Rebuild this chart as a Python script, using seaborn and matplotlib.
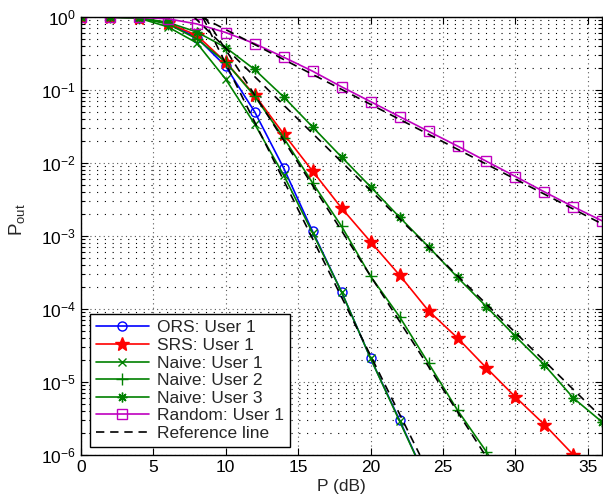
import numpy as np
import pandas as pd
import matplotlib
matplotlib.use("Agg")
import matplotlib.pyplot as plt
import seaborn as sns

# transmit power grid (dB)
power_db = [0, 2, 4, 6, 8, 10, 12, 14, 16, 18, 20, 22, 24, 26, 28, 30, 32, 34, 36]

ors_user1 = [0.99, 0.99, 0.97, 0.82, 0.52, 0.21, 0.05, 0.0085, 1.15e-3, 1.7e-4,
             2.1e-5, 3.0e-6, 4e-7]
srs_user1 = [0.99, 0.99, 0.97, 0.82, 0.56, 0.24, 0.085, 0.025, 0.0077, 2.4e-3,
             8.3e-4, 2.9e-4, 9.4e-5, 4.0e-5, 1.55e-5, 6.2e-6, 2.6e-6, 1.0e-6, 4e-7]
naive_user1 = [0.99, 0.99, 0.96, 0.73, 0.44, 0.14, 0.034, 0.0068, 1.1e-3, 1.7e-4,
               2.1e-5, 2.9e-6, 4e-7]
naive_user2 = [0.99, 0.99, 0.97, 0.80, 0.50, 0.24, 0.082, 0.022, 0.0053, 1.35e-3,
               2.8e-4, 7.8e-5, 1.8e-5, 4.1e-6, 1.1e-6, 2.5e-7]
naive_user3 = [0.99, 0.99, 0.97, 0.84, 0.62, 0.38, 0.19, 0.08, 0.031, 0.012,
               4.7e-3, 1.8e-3, 7.1e-4, 2.7e-4, 1.07e-4, 4.2e-5, 1.7e-5, 6.0e-6, 2.8e-6]
random_user1 = [0.99, 0.99, 0.98, 0.94, 0.80, 0.61, 0.43, 0.28, 0.18, 0.11,
                0.069, 0.043, 0.027, 0.017, 0.0105, 0.0065, 0.004, 0.0025, 0.0016]

# reference lines (diversity slopes), given by their end points
ref_x = [[8.4, 23.4], [8.55, 27.9], [7.8, 36.0], [8.3, 36.0]]
ref_y = [[1.0, 1e-6], [1.0, 1e-6], [1.0, 3.2e-6], [1.0, 1.45e-3]]

sns.set_style("ticks")
plt.rcParams["font.family"] = ["Liberation Sans", "DejaVu Sans"]
plt.rcParams["mathtext.fontset"] = "custom"
plt.rcParams["mathtext.rm"] = "Liberation Sans"
plt.rcParams["mathtext.it"] = "Liberation Sans:italic"
plt.rcParams["mathtext.default"] = "regular"

fig = plt.figure(figsize=(6.03, 4.95), dpi=100)
ax = fig.add_axes([0.134, 0.081, 0.865, 0.885])

green = (0, 0.5, 0)
series = [
    ("ORS: User 1", ors_user1, "blue", "o", 6.5, "none"),
    ("SRS: User 1", srs_user1, "red", "*", 10, "red"),
    ("Naive: User 1", naive_user1, green, "x", 6, "none"),
    ("Naive: User 2", naive_user2, green, "+", 9, "none"),
    ("Naive: User 3", naive_user3, green, (8, 2, 0), 7, "none"),
    ("Random: User 1", random_user1, "m", "s", 6.5, "none"),
]

for label, vals, col, mk, ms, fc in series:
    df = pd.DataFrame({"P": power_db[:len(vals)], "Pout": vals})
    sns.lineplot(data=df, x="P", y="Pout", ax=ax, color=col, marker=mk,
                 markersize=ms, mec=col, mfc=fc, mew=1.0, lw=1.2,
                 label=label, errorbar=None, sort=False)

for i, (xs, ys) in enumerate(zip(ref_x, ref_y)):
    sns.lineplot(x=xs, y=ys, ax=ax, color="k", ls=(0, (5, 3.5)), lw=1.2,
                 label="Reference line" if i == 0 else None, errorbar=None)

ax.set_yscale("log")
ax.set_xlim(0, 36)
ax.set_ylim(1e-6, 1)
ax.set_xticks([0, 5, 10, 15, 20, 25, 30, 35])
ax.set_yticks([1e-6, 1e-5, 1e-4, 1e-3, 1e-2, 1e-1, 1])

ax.grid(True, which="major", axis="both", ls=(0, (1, 3)), color="0.35", lw=0.8)
ax.grid(True, which="minor", axis="y", ls=(0, (1, 6)), color="k", lw=0.8)
ax.tick_params(which="both", direction="in", top=True, right=True,
               labelsize=12.5, width=0.8, colors="k")
ax.tick_params(which="major", length=5)
ax.tick_params(which="minor", length=3)
for s in ax.spines.values():
    s.set_linewidth(1.0)
    s.set_color("k")

ax.set_xlabel("P (dB)", fontsize=12.5, labelpad=3)
ax.set_ylabel(r"P$_{\rm out}$", fontsize=13.5)
ax.yaxis.set_label_coords(-0.103, 0.537)

leg = ax.legend(loc="lower left", bbox_to_anchor=(0.017, 0.018),
                borderaxespad=0, fontsize=12.5, handlelength=3.05,
                handletextpad=0.45, labelspacing=0.14, borderpad=0.35,
                fancybox=False, framealpha=1, edgecolor="k")
leg.get_frame().set_linewidth(1.0)

fig.savefig("out.png", dpi=100)
